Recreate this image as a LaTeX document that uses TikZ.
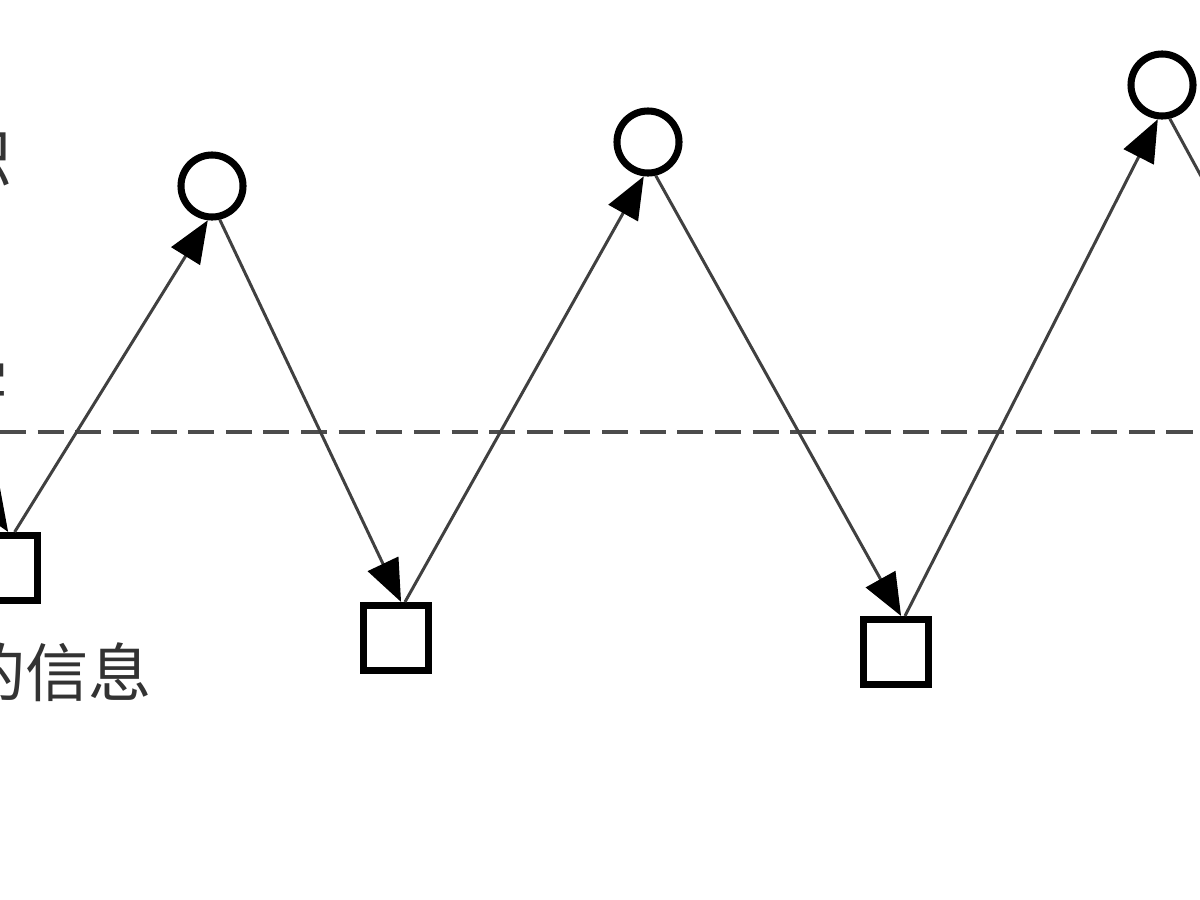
\documentclass[tikz,border=0pt]{standalone}
\usepackage{fontspec}
\newfontfamily\cjk{Noto Sans CJK SC}
\usetikzlibrary{arrows.meta}
\begin{document}
\begin{tikzpicture}[x=0.01cm,y=-0.01cm,
  upper/.style={circle,draw=black,line width=2pt,minimum size=0.62cm,inner sep=0pt},
  lower/.style={rectangle,draw=black,line width=2pt,minimum size=0.65cm,inner sep=0pt},
  link/.style={draw=black!75,line width=0.85pt,-{Triangle[length=12pt,width=9.5pt,color=black]}},
  level/.style={draw=black!70,line width=1pt,dash pattern=on 7.4pt off 3.3pt},
  lbl/.style={font=\cjk\fontsize{18pt}{18pt}\selectfont,text=black!80,inner sep=0pt}]
\useasboundingbox (0,0) rectangle (1200,900);
\clip (0,0) rectangle (1200,900);
\fill[white] (0,0) rectangle (1200,900);

% level line
\coordinate (dl) at (0,432);
\coordinate (dr) at (1200,432);
\draw[level] (dl) -- (dr);

% nodes
\node[upper] (c0) at (-240,130) {};
\node[upper] (c1) at (212,186) {};
\node[upper] (c2) at (648,142) {};
\node[upper] (c3) at (1162,85) {};
\node[upper] (c4) at (1480,140) {};
\node[lower] (s1) at (5,568) {};
\node[lower] (s2) at (396,638) {};
\node[lower] (s3) at (896,652) {};
\node[lower] (s4) at (1440,640) {};

% connectors
\draw[link] (c0.-70) -- (s1.85);
\draw[link] (s1.75) -- (c1.-97);
\draw[link] (c1.-77) -- (s2.82);
\draw[link] (s2.76) -- (c2.-97);
\draw[link] (c2.-77) -- (s3.82);
\draw[link] (s3.76) -- (c3.-97);
\draw[link] (c3.-77) -- (s4.100);

% labels (partly outside the frame)
\node[lbl,anchor=east] (t1) at (14,157) {知识};
\node[lbl,anchor=east] (t2) at (10,386) {字};
\node[lbl,anchor=east] (t3) at (153,672) {的信息};
\end{tikzpicture}
\end{document}
